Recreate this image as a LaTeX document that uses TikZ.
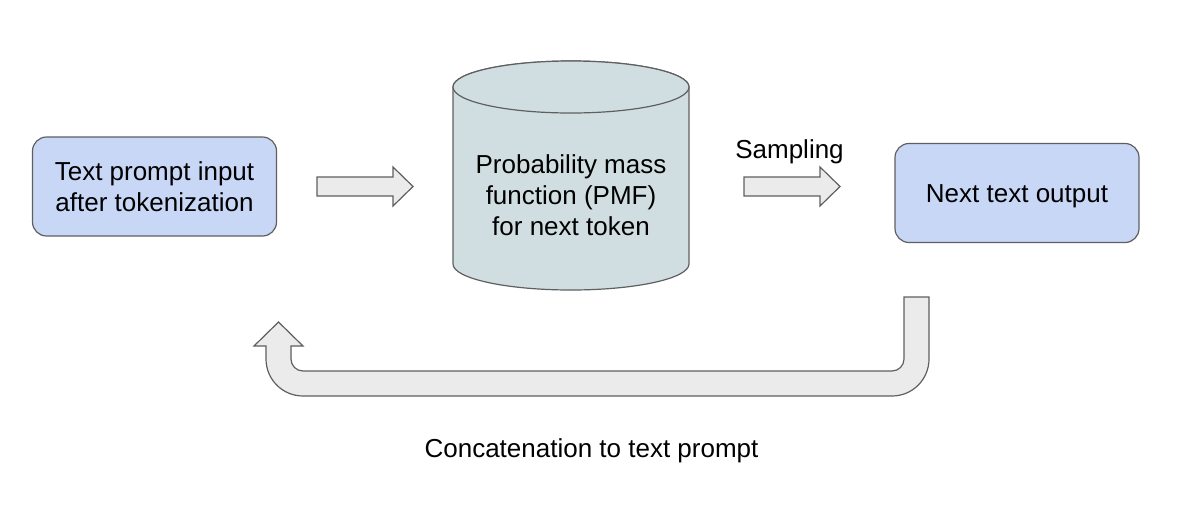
\documentclass[tikz,border=0pt]{standalone}
\usepackage{fontspec}
\setmainfont{Liberation Sans}
\definecolor{boxblue}{HTML}{C9D7F6}
\definecolor{cylfill}{HTML}{D0DEE2}
\definecolor{arrfill}{HTML}{EBEBEB}
\definecolor{edge}{HTML}{5F5F5F}
\begin{document}
\begin{tikzpicture}[x=1pt,y=-1pt,
  txt/.style={font=\fontsize{26}{31}\selectfont, align=center, inner sep=0pt},
  bbox/.style={draw=edge, line width=1.2pt, fill=boxblue, rounded corners=14pt,
    minimum width=244pt, minimum height=99pt},
  blockarrow/.style={draw=edge, line width=1.2pt, fill=arrfill, line join=miter},
  cyl/.style={draw=edge, line width=1.2pt, fill=cylfill}]
\path[use as bounding box] (0,0) rectangle (1182,520);

% input box
\node[bbox] (inp) at (154.5,186.5) {};
\node[txt] (inptxt) at (inp.center) {Text prompt input\\after tokenization};

% cylinder
\path[cyl] (453,87) -- (453,264) arc[start angle=180,end angle=0,x radius=118,y radius=26]
  -- (689,87) arc[start angle=0,end angle=-180,x radius=118,y radius=26] -- cycle;
\path[cyl] (571,87) ellipse[x radius=118,y radius=26];
\node[txt] (pmf) at (571,195) {Probability mass\\function (PMF)\\for next token};

% output box
\node[bbox] (out) at (1017,193) {};
\node[txt] (outtxt) at (1017,196) {Next text output};

% block arrow 1
\coordinate (a1) at (317,186.5);
\draw[blockarrow] (a1) ++(0,-9.5) -- ++(76,0) -- ++(0,-10) -- ++(20,19.5) -- ++(-20,19.5) -- ++(0,-10) -- ++(-76,0) -- cycle;

% block arrow 2
\coordinate (a2) at (744,186.5);
\draw[blockarrow] (a2) ++(0,-9.5) -- ++(76,0) -- ++(0,-10) -- ++(20,19.5) -- ++(-20,19.5) -- ++(0,-10) -- ++(-76,0) -- cycle;
\node[txt] (samp) at (789.5,152) {Sampling};

% U-turn arrow
\coordinate (ut) at (904,297);
\draw[blockarrow] (ut) -- (904,359) arc[start angle=0,end angle=90,radius=12]
  -- (303,371) arc[start angle=90,end angle=180,radius=12]
  -- (291,346) -- (303,346) -- (278.5,322) -- (254,346) -- (266,346)
  -- (266,359) arc[start angle=180,end angle=90,radius=37]
  -- (892,396) arc[start angle=90,end angle=0,radius=37]
  -- (929,297) -- cycle;

\node[txt] (concat) at (591.5,451) {Concatenation to text prompt};
\end{tikzpicture}
\end{document}
